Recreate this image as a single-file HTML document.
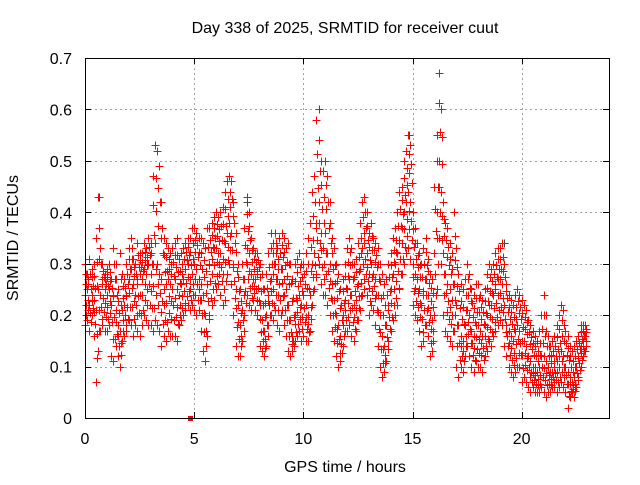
<!DOCTYPE html>
<html><head><meta charset="utf-8"><style>
body{margin:0;background:#fff}
svg text{font-family:"Liberation Sans",sans-serif;font-size:16px;fill:#000}
</style></head><body>
<svg id="c" width="640" height="480" xmlns="http://www.w3.org/2000/svg">
<rect width="640" height="480" fill="#fff"/>
<text x="345" y="33" text-anchor="middle">Day 338 of 2025, SRMTID for receiver cuut</text>
<text x="345" y="472" text-anchor="middle">GPS time / hours</text>
<text transform="translate(18,238) rotate(-90)" text-anchor="middle">SRMTID / TECUs</text>
<g id="grid"></g><g id="marks" shape-rendering="crispEdges"></g><g id="axes" shape-rendering="crispEdges"></g>
</svg>
<script>
const xTicks=[0,5,10,15,20];
const yTicks=[0,0.1,0.2,0.3,0.4,0.5,0.6,0.7];
const yTickLabels=["0","0.1","0.2","0.3","0.4","0.5","0.6","0.7"];
const seriesHi=[.30,.28,.31,.29,.30,.35,.43,.33,.30,.28,.29,.30,.27,.33,.30,.25,.32,.28,.27,.30,.33,.35,.31,.30,.34,.32,.32,.34,.33,.35,.34,.47,.53,.52,.49,.42,.35,.34,.33,.32,.33,.34,.35,.31,.32,.33,.34,.35,.35,.37,.37,.36,.35,.35,.34,.33,.37,.37,.38,.39,.40,.39,.40,.41,.44,.46,.47,.46,.42,.36,.30,.25,.30,.37,.43,.40,.35,.33,.32,.32,.30,.28,.25,.28,.32,.36,.34,.36,.33,.35,.36,.35,.33,.34,.30,.27,.30,.31,.32,.30,.30,.32,.35,.38,.44,.47,.58,.60,.50,.48,.50,.47,.42,.35,.33,.30,.28,.25,.27,.30,.33,.35,.33,.30,.31,.34,.38,.42,.43,.40,.36,.38,.35,.34,.33,.30,.28,.26,.27,.30,.32,.35,.37,.40,.44,.45,.50,.52,.55,.53,.40,.37,.34,.32,.30,.33,.35,.31,.28,.27,.45,.55,.67,.60,.42,.38,.37,.34,.32,.40,.33,.28,.26,.25,.27,.30,.28,.25,.24,.26,.26,.24,.23,.25,.28,.30,.29,.30,.32,.33,.33,.34,.30,.26,.24,.23,.22,.24,.25,.24,.23,.22,.21,.19,.18,.17,.16,.15,.17,.20,.24,.20,.16,.14,.15,.16,.18,.20,.22,.21,.17,.16,.14,.13,.14,.15,.16,.18,.18,.18];
const seriesMid=[.24,.25,.22,.24,.23,.21,.25,.24,.26,.25,.24,.25,.22,.24,.21,.18,.17,.21,.22,.24,.27,.29,.26,.24,.27,.28,.27,.29,.28,.30,.28,.30,.34,.30,.28,.27,.25,.26,.27,.26,.25,.27,.25,.24,.26,.27,.29,.30,.27,.28,.30,.29,.27,.26,.24,.20,.26,.30,.31,.33,.33,.32,.32,.31,.34,.36,.38,.36,.30,.25,.22,.18,.21,.27,.33,.32,.28,.27,.27,.28,.22,.19,.17,.20,.24,.27,.28,.30,.27,.26,.29,.27,.25,.22,.19,.16,.20,.23,.24,.22,.24,.22,.20,.24,.30,.32,.38,.42,.36,.33,.36,.32,.30,.26,.23,.20,.18,.16,.20,.23,.25,.27,.24,.22,.23,.26,.29,.33,.34,.32,.28,.30,.28,.27,.24,.20,.16,.14,.18,.22,.25,.28,.30,.32,.34,.37,.40,.42,.44,.42,.30,.28,.27,.25,.22,.24,.27,.24,.20,.19,.32,.40,.50,.44,.32,.28,.26,.25,.23,.26,.22,.18,.16,.15,.18,.21,.20,.17,.16,.18,.18,.17,.16,.18,.20,.22,.22,.24,.25,.27,.27,.26,.22,.18,.17,.16,.15,.17,.18,.17,.15,.15,.14,.12,.11,.10,.10,.09,.10,.12,.12,.11,.10,.09,.09,.10,.11,.12,.13,.12,.10,.09,.08,.07,.08,.10,.12,.14,.15,.16];
const seriesLo=[.18,.19,.17,.20,.16,.07,.13,.17,.18,.17,.17,.18,.12,.11,.14,.12,.10,.15,.16,.17,.19,.18,.16,.18,.17,.16,.18,.20,.19,.18,.18,.17,.19,.18,.17,.14,.16,.15,.17,.16,.16,.16,.15,.18,.19,.20,.21,.22,.21,.22,.21,.20,.21,.17,.13,.11,.16,.20,.22,.23,.25,.26,.24,.22,.23,.28,.30,.26,.20,.14,.12,.12,.15,.20,.24,.22,.21,.23,.21,.20,.14,.13,.12,.14,.18,.20,.19,.21,.18,.17,.21,.18,.16,.13,.12,.13,.15,.16,.17,.15,.16,.15,.15,.17,.22,.25,.28,.30,.26,.24,.24,.22,.20,.17,.15,.12,.10,.11,.14,.17,.17,.18,.16,.15,.17,.19,.21,.24,.25,.24,.20,.22,.21,.18,.14,.10,.08,.09,.11,.15,.17,.19,.20,.22,.25,.28,.30,.32,.33,.31,.22,.20,.19,.17,.14,.15,.18,.16,.12,.13,.20,.25,.35,.30,.20,.17,.16,.15,.14,.17,.10,.08,.10,.09,.12,.14,.12,.10,.09,.11,.10,.10,.09,.12,.13,.15,.14,.16,.17,.18,.19,.18,.14,.12,.10,.09,.08,.09,.10,.10,.07,.08,.07,.06,.05,.06,.05,.05,.05,.06,.05,.04,.05,.05,.06,.06,.05,.06,.07,.06,.05,.02,.04,.05,.04,.06,.08,.10,.12,.13];
const grayT=[0.65,3.3,14.85,19.2,7.4];
const grayV=[0.43,0.52,0.55,0.34,0.42];
const timeStep=0.1;
const L=85,R=609,T=58,B=418;
const X=v=>L+(v/24)*(R-L), Y=v=>B-(v/0.7)*(B-T);
const NS="http://www.w3.org/2000/svg";
function mk(tag,attrs,parent){const e=document.createElementNS(NS,tag);for(const k in attrs)e.setAttribute(k,attrs[k]);parent.appendChild(e);return e;}
const grid=document.getElementById('grid'),marks=document.getElementById('marks'),axes=document.getElementById('axes');
xTicks.forEach(t=>{
 const xx=Math.round(X(t))+0.5;
 if(t>0){const g=mk('line',{x1:xx,x2:xx,y1:T,y2:B,stroke:'#a0a0a0','stroke-dasharray':'2,3'},grid);
 
 }
 mk('line',{x1:xx,x2:xx,y1:B,y2:B-6,stroke:'#000'},axes);
 mk('line',{x1:xx,x2:xx,y1:T,y2:T+6,stroke:'#000'},axes);
 const tx=mk('text',{x:X(t),y:B+26,'text-anchor':'middle'},axes);tx.textContent=t;
 
 
});
yTicks.forEach((v,i)=>{
 const yy=Math.round(Y(v))+0.5;
 if(v>0&&v<0.7){const g=mk('line',{x1:L,x2:R,y1:yy,y2:yy,stroke:'#a0a0a0','stroke-dasharray':'2,3'},grid);
 
 }
 mk('line',{x1:L,x2:L+6,y1:yy,y2:yy,stroke:'#000'},axes);
 mk('line',{x1:R,x2:R-6,y1:yy,y2:yy,stroke:'#000'},axes);
 const tx=mk('text',{x:72,y:Y(v)+6,'text-anchor':'end'},axes);tx.textContent=yTickLabels[i];
 
 
});
const fr=mk('rect',{x:L+0.5,y:T+0.5,width:R-L,height:B-T,fill:'none',stroke:'#000'},axes);


function plus(t,v,col){const x=Math.round(X(t))+0.5,y=Math.round(Y(v))+0.5;
 const p=mk('path',{d:`M${x-4},${y}h8M${x},${y-4}v8`,stroke:col,'stroke-width':1,fill:'none'},marks);
 
 }
grayT.forEach((t,i)=>plus(t,grayV[i],'#404040'));
seriesHi.forEach((h,i)=>{const t=i*timeStep,m=seriesMid[i],l=seriesLo[i];
 plus(t,h,'#f00');plus(t+0.03,(2*h+m)/3,'#f00');plus(t+0.06,(h+2*m)/3,'#f00');
 plus(t,m,'#f00');plus(t+0.03,(2*m+l)/3,'#f00');plus(t+0.06,(m+2*l)/3,'#f00');plus(t,l,'#f00');});
const sq=mk('rect',{x:Math.round(X(4.8))-2,y:Math.round(Y(0))-2,width:5,height:5,fill:'#f00'},marks);


</script>
</body></html>
